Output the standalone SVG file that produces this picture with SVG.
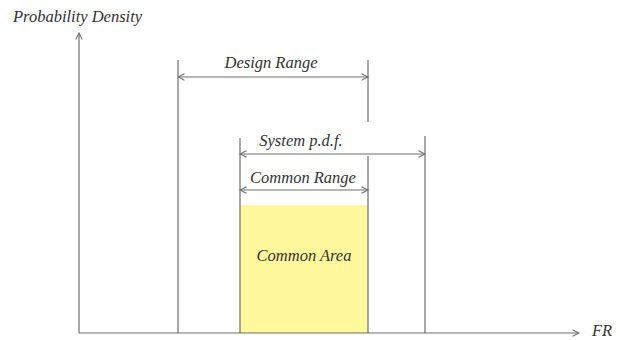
<svg xmlns="http://www.w3.org/2000/svg" width="620" height="340" viewBox="0 0 620 340">
  <style>
    .ln { stroke: #6e6e6e; stroke-width: 1.2; fill: none; }
    .dim { stroke: #6e6e6e; stroke-width: 1.2; fill: none; marker-start: url(#open); marker-end: url(#open); }
    .lbl { font-family: "Liberation Serif", "Times New Roman", serif; font-style: italic; font-size: 16.5px; fill: #333; }
  </style>
  <defs>
    <marker id="open" viewBox="0 0 10 10" refX="9" refY="5" markerWidth="8" markerHeight="8" markerUnits="userSpaceOnUse" orient="auto-start-reverse">
      <path d="M1,1 L9,5 L1,9" fill="none" stroke="#6e6e6e" stroke-width="1.3"/>
    </marker>
  </defs>
  <rect width="620" height="340" fill="#ffffff"/>

  <!-- common area fill -->
  <g id="common-area">
    <rect x="240" y="205" width="128" height="128" fill="#fff79c"/>
    <text class="lbl" x="304" y="261" text-anchor="middle">Common Area</text>
  </g>

  <!-- axes -->
  <g id="axes">
    <line class="ln" x1="79" y1="333" x2="79" y2="33" marker-end="url(#open)"/>
    <line class="ln" x1="79" y1="333" x2="579" y2="333" marker-end="url(#open)"/>
    <text class="lbl" x="13" y="22">Probability Density</text>
    <text class="lbl" x="592" y="336">FR</text>
  </g>

  <!-- vertical boundary lines -->
  <g id="boundaries">
    <line class="ln" x1="178" y1="60" x2="178" y2="333"/>
    <line class="ln" x1="368" y1="60" x2="368" y2="122"/>
    <line class="ln" x1="368" y1="156" x2="368" y2="333"/>
    <line class="ln" x1="240" y1="138" x2="240" y2="333"/>
    <line class="ln" x1="425" y1="136" x2="425" y2="333"/>
  </g>

  <!-- range dimensions -->
  <g id="connectors">
    <line class="dim" x1="178" y1="77" x2="368" y2="77"/>
    <line class="dim" x1="240" y1="154" x2="425" y2="154"/>
    <line class="dim" x1="240" y1="190" x2="368" y2="190"/>
  </g>

  <g id="design-range">
    <text class="lbl" x="271" y="68" text-anchor="middle">Design Range</text>
  </g>
  <g id="system-pdf">
    <text class="lbl" x="301" y="146" text-anchor="middle">System p.d.f.</text>
  </g>
  <g id="common-range">
    <text class="lbl" x="303" y="183" text-anchor="middle">Common Range</text>
  </g>
</svg>
